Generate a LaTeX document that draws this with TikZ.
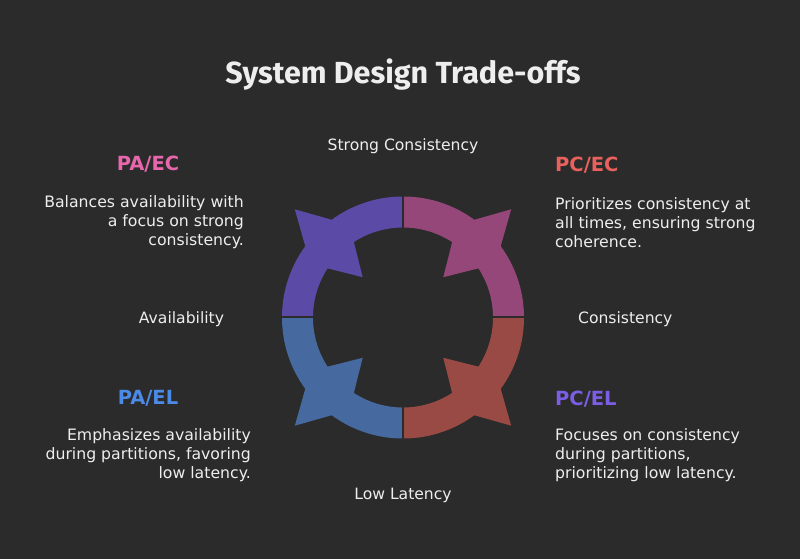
\documentclass[tikz,border=0pt]{standalone}
\usepackage{fontspec}
\setmainfont{DejaVu Sans}
\newfontfamily\titlefont{Fira Sans}
\usepackage{xcolor}
\usepackage{tikz}
\usetikzlibrary{positioning}
\definecolor{bgdark}{HTML}{2B2B2B}
\definecolor{txtlight}{HTML}{EEEEEE}
\definecolor{segpurple}{HTML}{5C4AA7}
\definecolor{segpink}{HTML}{964779}
\definecolor{segred}{HTML}{9A4A45}
\definecolor{segblue}{HTML}{46699F}
\definecolor{headpink}{HTML}{E866AC}
\definecolor{headred}{HTML}{E8615D}
\definecolor{headblue}{HTML}{4B8AE6}
\definecolor{headpurple}{HTML}{7B5EE4}

\tikzset{
	bodytext/.style={text=txtlight,inner sep=0pt,font=\fontsize{15.7}{19}\selectfont},
	axislabel/.style={text=txtlight,inner sep=0pt,font=\fontsize{15.6}{19}\selectfont},
	headlabel/.style={inner sep=0pt,font=\fontsize{19.5}{21}\selectfont\bfseries}
}

\begin{document}
\begin{tikzpicture}[x=1pt,y=1pt]
		\fill[bgdark] (-403,-241.5) rectangle (397,317.5);
		\useasboundingbox (-403,-241.5) rectangle (397,317.5);
		% ring quadrants
		\fill[segpurple] (90:121) arc[start angle=90,end angle=180,radius=121] -- (180:90) arc[start angle=180,end angle=90,radius=90] -- cycle;
		\fill[segpurple] (150:107) -- (135:153) -- (120:107) -- (135:57) -- cycle;
		\fill[segpink] (0:121) arc[start angle=0,end angle=90,radius=121] -- (90:90) arc[start angle=90,end angle=0,radius=90] -- cycle;
		\fill[segpink] (60:107) -- (45:153) -- (30:107) -- (45:57) -- cycle;
		\fill[segred] (-90:121) arc[start angle=-90,end angle=0,radius=121] -- (0:90) arc[start angle=0,end angle=-90,radius=90] -- cycle;
		\fill[segred] (-30:107) -- (-45:153) -- (-60:107) -- (-45:57) -- cycle;
		\fill[segblue] (180:121) arc[start angle=180,end angle=270,radius=121] -- (270:90) arc[start angle=270,end angle=180,radius=90] -- cycle;
		\fill[segblue] (240:107) -- (225:153) -- (210:107) -- (225:57) -- cycle;
		\draw[bgdark,line width=2pt] (0,-124) -- (0,124);
		\draw[bgdark,line width=2pt] (-124,0) -- (124,0);
		% title and axis labels
		\node[text=txtlight,inner sep=0pt,anchor=base,font=\fontsize{30.5}{32}\selectfont\titlefont\bfseries] (title) at (0,233.5) {System Design Trade-offs};
		\node[axislabel,anchor=base] (strong) at (0,166.5) {Strong Consistency};
		\node[axislabel,anchor=base] (avail) at (-221.5,-6.5) {Availability};
		\node[axislabel,anchor=base] (consist) at (222.3,-6.5) {Consistency};
		\node[axislabel,anchor=base] (low) at (0,-182) {Low Latency};
		% corner headings
		\node[headlabel,text=headpink] (paec) at (-255,153.5) {PA/EC};
		\node[headlabel,text=headred,anchor=west] (pcec) at (152,152.5) {PC/EC};
		\node[headlabel,text=headblue] (pael) at (-255,-80.5) {PA/EL};
		\node[headlabel,text=headpurple,anchor=west] (pcel) at (152,-81.5) {PC/EL};
		% corner texts
		\node[bodytext,align=right,anchor=east] (paectxt) at (-159,95.5) {Balances availability with\\a focus on strong\\consistency.};
		\node[bodytext,align=left,anchor=west] (pcectxt) at (152,95.2) {Prioritizes consistency at\\all times, ensuring strong\\coherence.};
		\node[bodytext,align=right,anchor=east] (paeltxt) at (-152,-137.5) {Emphasizes availability\\during partitions, favoring\\low latency.};
		\node[bodytext,align=left,anchor=west] (pceltxt) at (152,-138) {Focuses on consistency\\during partitions,\\prioritizing low latency.};
	\end{tikzpicture}
\end{document}
